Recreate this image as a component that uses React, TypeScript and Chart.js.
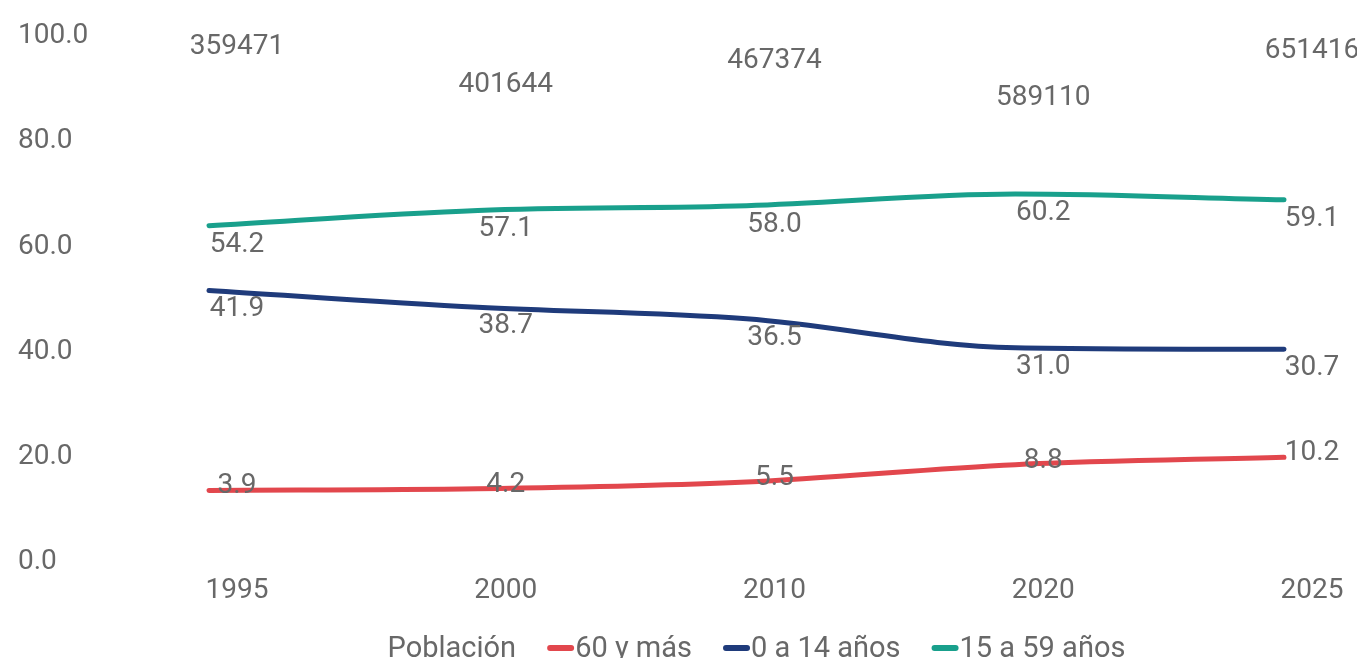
import React, { useEffect, useRef } from "react";
import { Chart, registerables } from "chart.js";

Chart.register(...registerables);

// ---- data ----
const years = ["1995", "2000", "2010", "2020", "2025"];
const poblacion = [359471, 401644, 467374, 589110, 651416];
const mayores60 = [3.9, 4.2, 5.5, 8.8, 10.2];
const ninos0a14 = [41.9, 38.7, 36.5, 31.0, 30.7];
const adultos15a59 = [54.2, 57.1, 58.0, 60.2, 59.1];
const yTickValues = [0, 20, 40, 60, 80, 100];

// ---- style ----
const FONT = "Roboto, 'Liberation Sans', Arial, sans-serif";
const TEXT = "#686868";
const FONT_SIZE = 28;
const LEGEND_FONT_SIZE = 29;
const LABEL_SHIFT = 28; // x-shift of tick / value labels relative to line points
const RED = "#e2474d";
const BLUE = "#1f3b7b";
const TEAL = "#19a08c";

// per-dataset value label placement (index = dataset index)
const labelStyles: any[] = [
  { fromTop: true, dy: [14, 52, 28, 65, 18], decimals: 0 },
  { fromTop: false, dy: -4, decimals: 1 },
  { fromTop: false, dy: 19, decimals: 1 },
  { fromTop: false, dy: 19, decimals: 1 },
];

const valueLabelPlugin = {
  id: "valueLabels",
  afterDatasetsDraw(chart: any) {
    const ctx = chart.ctx;
    const top = chart.chartArea.top;
    ctx.save();
    ctx.font = `${FONT_SIZE}px ${FONT}`;
    ctx.fillStyle = TEXT;
    ctx.textAlign = "center";
    ctx.textBaseline = "middle";
    chart.data.datasets.forEach((ds: any, i: number) => {
      const st = labelStyles[i];
      const meta = chart.getDatasetMeta(i);
      meta.data.forEach((pt: any, j: number) => {
        const v = ds.data[j] as number;
        const text = st.decimals ? v.toFixed(st.decimals) : String(v);
        const x = pt.x + LABEL_SHIFT;
        const y = st.fromTop ? top + st.dy[j] : pt.y + st.dy;
        ctx.fillText(text, x, y);
      });
    });
    ctx.restore();
  },
};

const legendPlugin = {
  id: "bottomLegend",
  afterDraw(chart: any) {
    const ctx = chart.ctx;
    const { left, right } = chart.chartArea;
    ctx.save();
    ctx.font = `${LEGEND_FONT_SIZE}px ${FONT}`;
    const markerW = 27;
    const markerH = 6;
    const markerGap = 1;
    const itemGap = 31;
    const items = chart.data.datasets.map((ds: any) => {
      const hasMarker = ds.borderColor !== "rgba(0,0,0,0)";
      const tw = ctx.measureText(ds.label).width;
      return { text: ds.label, color: ds.borderColor, hasMarker, tw, w: (hasMarker ? markerW + markerGap : 0) + tw };
    });
    const total = items.reduce((s: number, it: any) => s + it.w, 0) + itemGap * (items.length - 1);
    let x = (left + right) / 2 + 10 - total / 2;
    const y = chart.height - 17;
    ctx.textAlign = "left";
    ctx.textBaseline = "middle";
    items.forEach((it: any) => {
      if (it.hasMarker) {
        ctx.fillStyle = it.color;
        ctx.beginPath();
        if (ctx.roundRect) ctx.roundRect(x, y - 1 - markerH / 2, markerW, markerH, 3);
        else ctx.rect(x, y - 1 - markerH / 2, markerW, markerH);
        ctx.fill();
        x += markerW + markerGap;
      }
      ctx.fillStyle = TEXT;
      ctx.fillText(it.text, x, y + 1);
      x += it.tw + itemGap;
    });
    ctx.restore();
  },
};

const lineCommon = {
  borderWidth: 5,
  pointRadius: 0,
  pointHoverRadius: 0,
  cubicInterpolationMode: "monotone" as const,
  borderCapStyle: "round" as const,
  borderJoinStyle: "round" as const,
  fill: false,
  clip: false as any,
  yAxisID: "y1",
};

export default function App() {
  const canvasRef = useRef<HTMLCanvasElement | null>(null);

  useEffect(() => {
    if (!canvasRef.current) return;
    const chart = new Chart(canvasRef.current, {
      type: "line",
      data: {
        labels: years,
        datasets: [
          {
            label: "Población",
            data: poblacion,
            borderColor: "rgba(0,0,0,0)",
            backgroundColor: "rgba(0,0,0,0)",
            borderWidth: 0,
            pointRadius: 0,
            pointHoverRadius: 0,
            yAxisID: "y2",
          },
          { ...lineCommon, label: "60 y más", data: mayores60, borderColor: RED, backgroundColor: RED },
          { ...lineCommon, label: "0 a 14 años", data: ninos0a14, borderColor: BLUE, backgroundColor: BLUE },
          { ...lineCommon, label: "15 a 59 años", data: adultos15a59, borderColor: TEAL, backgroundColor: TEAL },
        ],
      },
      options: {
        responsive: true,
        maintainAspectRatio: false,
        animation: false,
        layout: { padding: { left: 10, top: 25, right: 73, bottom: 43 } },
        plugins: {
          legend: { display: false },
          tooltip: { enabled: false },
        },
        scales: {
          x: {
            type: "category",
            offset: false,
            grid: { display: false, drawTicks: false },
            border: { display: false },
            ticks: {
              font: { size: FONT_SIZE, family: FONT },
              color: TEXT,
              padding: 15,
              labelOffset: LABEL_SHIFT,
              maxRotation: 0,
              autoSkip: false,
            },
          },
          y: {
            type: "linear",
            position: "left",
            min: 0,
            max: 100,
            grid: { display: false, drawTicks: false },
            border: { display: false },
            afterBuildTicks: (scale: any) => {
              scale.ticks = yTickValues.map((v) => ({ value: v }));
            },
            afterFit: (scale: any) => {
              scale.width = 191;
            },
            ticks: {
              font: { size: FONT_SIZE, family: FONT },
              color: TEXT,
              crossAlign: "far",
              labelOffset: 3,
              callback: (v: any) => Number(v).toFixed(1),
            },
          },
          y1: {
            type: "linear",
            display: false,
            min: -9.2,
            max: 90.8,
          },
          y2: {
            type: "linear",
            display: false,
          },
        },
      },
      plugins: [valueLabelPlugin, legendPlugin],
    });
    return () => chart.destroy();
  }, []);

  return (
    <div style={{ width: "100%", height: 658, marginBottom: -8, position: "relative" }}>
      <canvas ref={canvasRef} />
    </div>
  );
}
